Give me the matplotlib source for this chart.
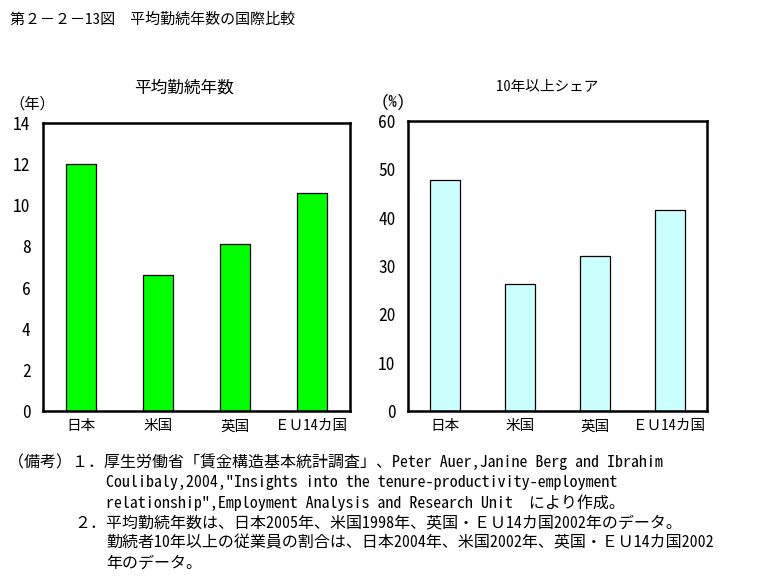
import matplotlib.pyplot as plt
import numpy as np

# monospaced CJK first (half-width latin like the original gothic font)
plt.rcParams['font.family'] = ['Noto Sans Mono CJK JP', 'Noto Sans CJK JP',
                               'DejaVu Sans']

# data
countries = ['日本', '米国', '英国', 'ＥＵ14カ国']
avg_tenure = [12.0, 6.6, 8.1, 10.6]        # years
share_10yr = [47.7, 26.2, 32.0, 41.5]      # percent

W, H = 757, 586
fig = plt.figure(figsize=(W / 100, H / 100), dpi=100)


def ax_at(x0, y0, x1, y1):
    # pixel box -> figure coords
    return fig.add_axes([x0 / W, 1 - y1 / H, (x1 - x0) / W, (y1 - y0) / H])


def style(ax, ymax, step):
    ax.set_xlim(-0.5, len(countries) - 0.5)
    ax.set_ylim(0, ymax)
    ax.set_yticks(np.arange(0, ymax + 1, step))
    ax.set_xticks(range(len(countries)))
    ax.set_xticklabels(countries, fontsize=10.5)
    ax.tick_params(axis='y', length=0, pad=9, labelsize=12.5)
    ax.tick_params(axis='x', length=0, pad=6)
    for s in ax.spines.values():
        s.set_linewidth(1.8)


# left panel: average tenure
ax1 = ax_at(43, 123, 350, 411)
ax1.bar(range(len(countries)), avg_tenure, width=0.39,
        color='#00ff00', edgecolor='black', linewidth=0.9)
style(ax1, 14, 2)

# right panel: share with 10+ years
ax2 = ax_at(408, 121, 707, 411)
ax2.bar(range(len(countries)), share_10yr, width=0.4,
        color='#ccffff', edgecolor='black', linewidth=0.9)
style(ax2, 60, 10)

# titles and unit labels
fig.text(10 / W, 1 - 20 / H, '第２－２－13図　平均勤続年数の国際比較',
         fontsize=10.8, va='center', ha='left')
fig.text(184 / W, 1 - 88 / H, '平均勤続年数', fontsize=12,
         va='center', ha='center')
fig.text(547 / W, 1 - 87 / H, '10年以上シェア', fontsize=10.5,
         va='center', ha='center')
fig.text(9 / W, 1 - 104 / H, '（年）', fontsize=11, va='center', ha='left')
fig.text(381 / W, 1 - 102 / H, '(%)', fontsize=12, va='center', ha='left')

# notes
notes = [
    (8, 462, '（備考）１．厚生労働省「賃金構造基本統計調査」、Peter Auer,Janine Berg and Ibrahim'),
    (106, 482, 'Coulibaly,2004,"Insights into the tenure-productivity-employment'),
    (106, 503, 'relationship",Employment Analysis and Research Unit　により作成。'),
    (74, 523, '２．平均勤続年数は、日本2005年、米国1998年、英国・ＥＵ14カ国2002年のデータ。'),
    (106, 543, '勤続者10年以上の従業員の割合は、日本2004年、米国2002年、英国・ＥＵ14カ国2002'),
    (106, 563, '年のデータ。'),
]
for x, y, t in notes:
    fig.text(x / W, 1 - y / H, t, fontsize=11.5, va='center', ha='left')

fig.savefig('out.png', dpi=100)
